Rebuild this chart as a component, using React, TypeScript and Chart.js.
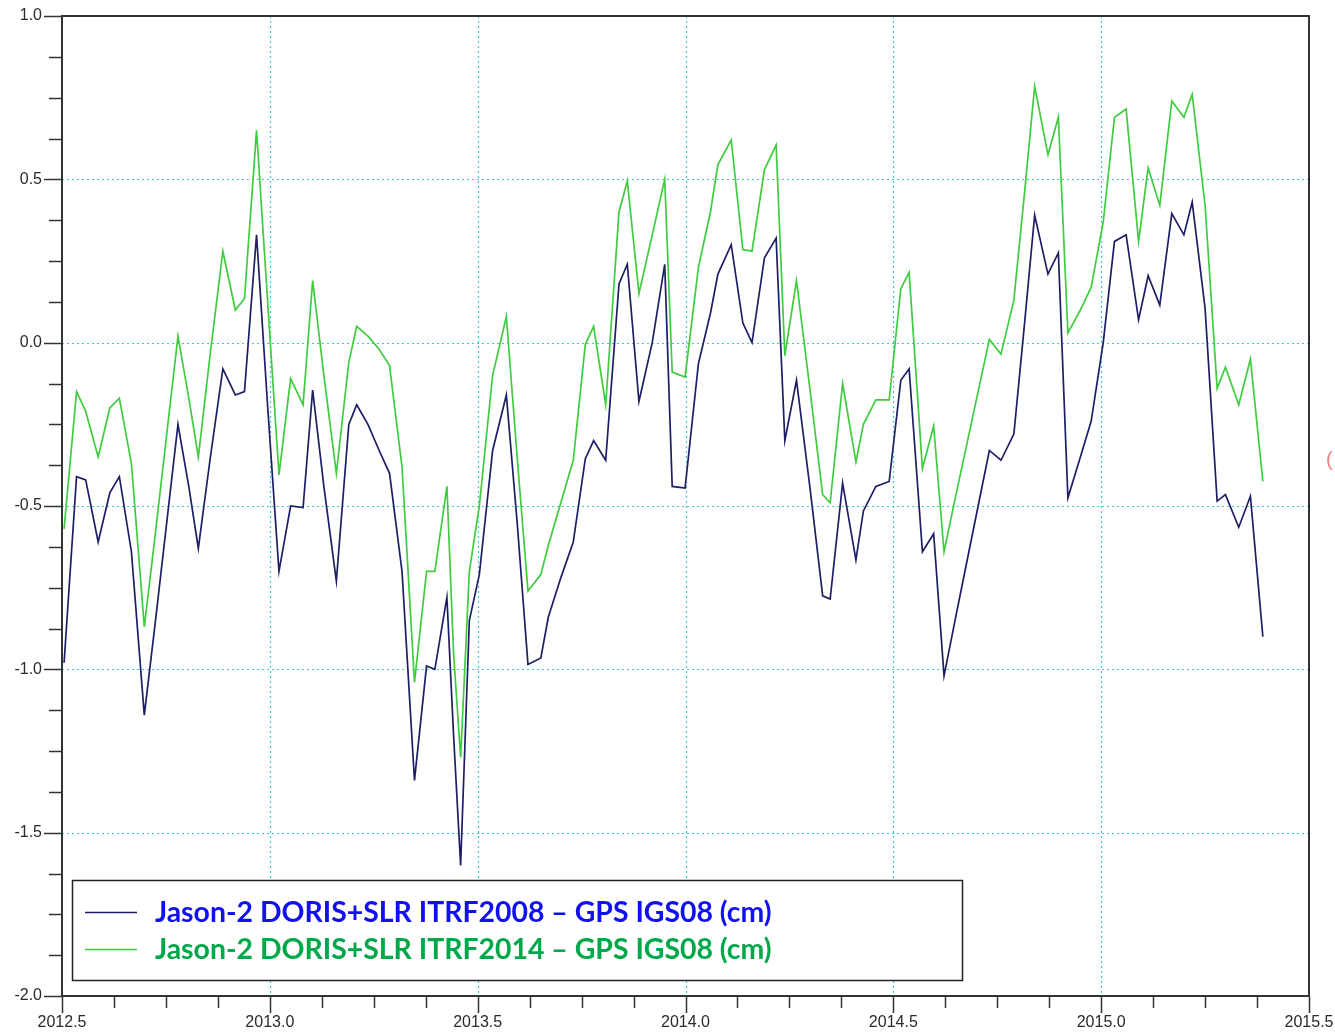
import React, { useEffect, useRef } from "react";
import { Chart, registerables } from "chart.js";
Chart.register(...registerables);

const years = [
  2012.505, 2012.535, 2012.557, 2012.587, 2012.615, 2012.638, 2012.667, 2012.698, 2012.725, 2012.752,
  2012.779, 2012.805, 2012.828, 2012.857, 2012.887, 2012.917, 2012.939, 2012.968, 2012.995, 2013.022,
  2013.05, 2013.08, 2013.103, 2013.13, 2013.16, 2013.19, 2013.209, 2013.236, 2013.263, 2013.288,
  2013.318, 2013.348, 2013.377, 2013.397, 2013.426, 2013.442, 2013.459, 2013.48, 2013.504, 2013.536,
  2013.569, 2013.595, 2013.621, 2013.652, 2013.67, 2013.7, 2013.73, 2013.759, 2013.779, 2013.808,
  2013.84, 2013.86, 2013.888, 2013.92, 2013.95, 2013.968, 2013.999, 2014.031, 2014.06, 2014.078,
  2014.11, 2014.138, 2014.16, 2014.19, 2014.218, 2014.239, 2014.267, 2014.3, 2014.33, 2014.348,
  2014.378, 2014.41, 2014.428, 2014.458, 2014.49, 2014.518, 2014.538, 2014.57, 2014.597, 2014.622,
  2014.65, 2014.677, 2014.704, 2014.731, 2014.759, 2014.79, 2014.815, 2014.84, 2014.872, 2014.897,
  2014.92, 2014.95, 2014.976, 2015.005, 2015.032, 2015.06, 2015.09, 2015.113, 2015.141, 2015.17,
  2015.199, 2015.219, 2015.25, 2015.279, 2015.299, 2015.331, 2015.359, 2015.389,
];

const itrf2008 = [
  -0.98, -0.41, -0.42, -0.61, -0.46, -0.41, -0.64, -1.14, -0.85, -0.55,
  -0.25, -0.44, -0.63, -0.35, -0.08, -0.16, -0.15, 0.33, -0.2, -0.7,
  -0.5, -0.505, -0.145, -0.44, -0.73, -0.25, -0.19, -0.25, -0.33, -0.4,
  -0.7, -1.34, -0.99, -1.0, -0.78, -1.2, -1.6, -0.85, -0.71, -0.33,
  -0.16, -0.55, -0.985, -0.965, -0.84, -0.72, -0.61, -0.355, -0.3, -0.36,
  0.18, 0.24, -0.18, 0.0, 0.24, -0.44, -0.445, -0.065, 0.09, 0.21,
  0.3, 0.06, 0.0, 0.26, 0.32, -0.3, -0.115, -0.45, -0.775, -0.785,
  -0.43, -0.665, -0.515, -0.44, -0.425, -0.115, -0.08, -0.64, -0.585, -1.02,
  -0.84, -0.67, -0.5, -0.33, -0.36, -0.28, 0.05, 0.39, 0.21, 0.275,
  -0.475, -0.35, -0.24, 0.0, 0.31, 0.33, 0.07, 0.205, 0.115, 0.395,
  0.33, 0.43, 0.105, -0.485, -0.465, -0.565, -0.47, -0.9,
];

const itrf2014 = [
  -0.57, -0.15, -0.21, -0.35, -0.2, -0.17, -0.37, -0.87, -0.58, -0.28,
  0.02, -0.17, -0.35, -0.03, 0.28, 0.1, 0.135, 0.65, 0.12, -0.405,
  -0.11, -0.19, 0.19, -0.1, -0.4, -0.06, 0.05, 0.02, -0.02, -0.07,
  -0.38, -1.04, -0.7, -0.7, -0.44, -0.95, -1.27, -0.7, -0.5, -0.1,
  0.08, -0.35, -0.76, -0.71, -0.62, -0.49, -0.36, -0.005, 0.05, -0.19,
  0.4, 0.495, 0.15, 0.33, 0.5, -0.09, -0.105, 0.23, 0.4, 0.545,
  0.62, 0.285, 0.28, 0.53, 0.605, -0.04, 0.19, -0.15, -0.465, -0.49,
  -0.125, -0.365, -0.25, -0.175, -0.175, 0.165, 0.215, -0.385, -0.255, -0.64,
  -0.47, -0.31, -0.15, 0.01, -0.035, 0.13, 0.45, 0.785, 0.575, 0.69,
  0.03, 0.1, 0.17, 0.37, 0.69, 0.715, 0.31, 0.535, 0.42, 0.74,
  0.69, 0.76, 0.42, -0.14, -0.075, -0.19, -0.05, -0.425,
];

const seriesLabels = [
  "Jason-2 DORIS+SLR ITRF2008 \u2013 GPS IGS08 (cm)",
  "Jason-2 DORIS+SLR ITRF2014 \u2013 GPS IGS08 (cm)",
];

const xTickLabels = ["2012.5", "2013.0", "2013.5", "2014.0", "2014.5", "2015.0", "2015.5"];
const yTickLabels = ["-2.0", "-1.5", "-1.0", "-0.5", "0.0", "0.5", "1.0"];

const LINE_COLORS = ["#1e1e66", "#3fcc3f"];
const TEXT_COLORS = ["#1010f0", "#00a84a"];

const W = 1335;
const H = 1033;

export default function App() {
  const ref = useRef<HTMLCanvasElement | null>(null);

  useEffect(() => {
    const canvas = ref.current;
    if (!canvas) return;
    const xVals = xTickLabels.map(Number);
    const yVals = yTickLabels.map(Number);
    const xMin = xVals[0];
    const xMax = xVals[xVals.length - 1];
    const yMin = yVals[0];
    const yMax = yVals[yVals.length - 1];

    const decor = {
      id: "decor",
      beforeDatasetsDraw(chart: any) {
        const { ctx, chartArea: a, scales } = chart;
        const xs = scales.x;
        const ys = scales.y;
        ctx.save();
        ctx.strokeStyle = "#3ccad2";
        ctx.lineWidth = 1.2;
        ctx.setLineDash([2, 3]);
        xVals.forEach((v) => {
          if (v === xMin || v === xMax) return;
          const p = Math.round(xs.getPixelForValue(v)) + 0.5;
          ctx.beginPath();
          ctx.moveTo(p, a.top);
          ctx.lineTo(p, a.bottom);
          ctx.stroke();
        });
        yVals.forEach((v) => {
          if (v === yMin || v === yMax) return;
          const p = Math.round(ys.getPixelForValue(v)) + 0.5;
          ctx.beginPath();
          ctx.moveTo(a.left, p);
          ctx.lineTo(a.right, p);
          ctx.stroke();
        });
        ctx.restore();
      },
      afterDatasetsDraw(chart: any) {
        const { ctx, chartArea: a, scales } = chart;
        const xs = scales.x;
        const ys = scales.y;
        ctx.save();
        ctx.setLineDash([]);
        ctx.strokeStyle = "#333333";
        ctx.lineWidth = 2;
        ctx.strokeRect(a.left, a.top, a.right - a.left, a.bottom - a.top);

        ctx.lineWidth = 1.5;
        const stepX = (xVals[1] - xVals[0]) / 4;
        const nX = Math.round((xMax - xMin) / stepX);
        for (let i = 0; i <= nX; i++) {
          const v = xMin + i * stepX;
          const p = Math.round(xs.getPixelForValue(v)) + 0.5;
          const major = i % 4 === 0;
          ctx.beginPath();
          ctx.moveTo(p, a.bottom);
          ctx.lineTo(p, a.bottom + (major ? 17 : 12));
          ctx.stroke();
        }
        const stepY = (yVals[1] - yVals[0]) / 4;
        const nY = Math.round((yMax - yMin) / stepY);
        for (let i = 0; i <= nY; i++) {
          const v = yMin + i * stepY;
          const p = Math.round(ys.getPixelForValue(v)) + 0.5;
          const major = i % 4 === 0;
          ctx.beginPath();
          ctx.moveTo(a.left, p);
          ctx.lineTo(a.left - (major ? 18 : 13), p);
          ctx.stroke();
        }

        ctx.fillStyle = "#2a2a2a";
        ctx.font = "16px 'Liberation Sans', Arial, sans-serif";
        ctx.textAlign = "center";
        ctx.textBaseline = "top";
        xTickLabels.forEach((t, i) => {
          ctx.fillText(t, xs.getPixelForValue(xVals[i]), a.bottom + 19);
        });
        ctx.textAlign = "right";
        ctx.textBaseline = "middle";
        yTickLabels.forEach((t, i) => {
          ctx.fillText(t, a.left - 20, ys.getPixelForValue(yVals[i]));
        });

        ctx.fillStyle = "#f08080";
        ctx.font = "20px 'Liberation Sans', Arial, sans-serif";
        ctx.textAlign = "left";
        ctx.fillText("(", 1326, 460);
        ctx.restore();
      },
      afterDraw(chart: any) {
        const { ctx } = chart;
        ctx.save();
        const bx = 72, by = 880, bw = 890, bh = 100;
        ctx.fillStyle = "#ffffff";
        ctx.fillRect(bx, by, bw, bh);
        ctx.strokeStyle = "#222222";
        ctx.lineWidth = 1.5;
        ctx.setLineDash([]);
        ctx.strokeRect(bx + 0.5, by + 0.5, bw, bh);
        const rows = [912, 949];
        const targetW = 617;
        let fs = 26;
        ctx.font = `bold ${fs}px Lato, 'Noto Sans', sans-serif`;
        const mw = ctx.measureText(seriesLabels[0]).width;
        fs = Math.max(18, Math.min(34, (fs * targetW) / mw));
        ctx.font = `bold ${fs}px Lato, 'Noto Sans', sans-serif`;
        ctx.textBaseline = "middle";
        ctx.textAlign = "left";
        chart.data.datasets.forEach((ds: any, i: number) => {
          const y = rows[i];
          ctx.strokeStyle = ds.borderColor;
          ctx.lineWidth = 1.5;
          ctx.beginPath();
          ctx.moveTo(85, y + 0.5);
          ctx.lineTo(137, y + 0.5);
          ctx.stroke();
          ctx.fillStyle = TEXT_COLORS[i];
          ctx.fillText(ds.label, 155, y + 1);
        });
        ctx.restore();
      },
    };

    const chart = new Chart(canvas, {
      type: "line",
      data: {
        datasets: [
          {
            label: seriesLabels[0],
            data: years.map((x, i) => ({ x, y: itrf2008[i] })),
            borderColor: LINE_COLORS[0],
            borderWidth: 1.7,
            pointRadius: 0,
            tension: 0,
            order: 0,
          },
          {
            label: seriesLabels[1],
            data: years.map((x, i) => ({ x, y: itrf2014[i] })),
            borderColor: LINE_COLORS[1],
            borderWidth: 1.7,
            pointRadius: 0,
            tension: 0,
            order: 1,
          },
        ],
      },
      options: {
        responsive: false,
        animation: false,
        devicePixelRatio: 1,
        layout: { padding: { left: 0, right: 26, top: 16, bottom: 0 } },
        scales: {
          x: {
            type: "linear",
            min: xMin,
            max: xMax,
            grid: { display: false },
            border: { display: false },
            ticks: { display: false },
            afterFit: (s: any) => {
              s.height = 37;
            },
          },
          y: {
            type: "linear",
            min: yMin,
            max: yMax,
            grid: { display: false },
            border: { display: false },
            ticks: { display: false },
            afterFit: (s: any) => {
              s.width = 62;
            },
          },
        },
        plugins: { legend: { display: false }, tooltip: { enabled: false } },
      },
      plugins: [decor],
    });
    return () => chart.destroy();
  }, []);

  return (
    <div style={{ position: "absolute", left: 0, top: 0, width: W, height: H, background: "#fff" }}>
      <canvas ref={ref} width={W} height={H} style={{ display: "block" }} />
    </div>
  );
}
